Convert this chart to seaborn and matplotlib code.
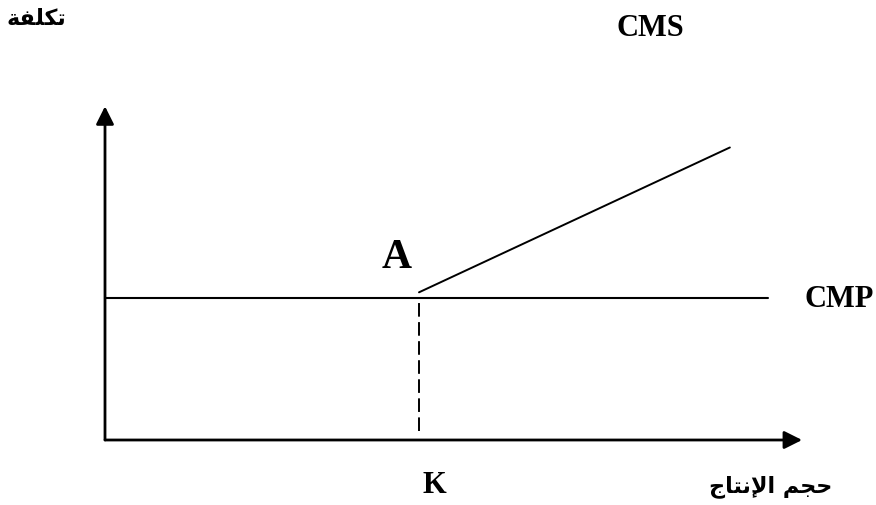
import pandas as pd
import seaborn as sns
import matplotlib.pyplot as plt

# conceptual values of the diagram (arbitrary units)
k_level = 10.0
cmp_level = 10.0
cmp_x = [0.0, 21.1]
cms_x = [10.0, 19.9]
cms_y = [10.4, 20.6]
x_axis_end = 22.2
y_axis_end = 23.5
dash_bottom = 0.6

labels = dict(
    cost='تكلفة',
    volume='حجم الإنتاج',
    cms='CMS',
    cmp='CMP',
    point='A',
    k='K',
)

FORMS = {
    'ا': ('\uFE8D', '\uFE8E', None, None),
    'إ': ('\uFE87', '\uFE88', None, None),
    'ت': ('\uFE95', '\uFE96', '\uFE97', '\uFE98'),
    'ة': ('\uFE93', '\uFE94', None, None),
    'ج': ('\uFE9D', '\uFE9E', '\uFE9F', '\uFEA0'),
    'ح': ('\uFEA1', '\uFEA2', '\uFEA3', '\uFEA4'),
    'ف': ('\uFED1', '\uFED2', '\uFED3', '\uFED4'),
    'ك': ('\uFED9', '\uFEDA', '\uFEDB', '\uFEDC'),
    'ل': ('\uFEDD', '\uFEDE', '\uFEDF', '\uFEE0'),
    'م': ('\uFEE1', '\uFEE2', '\uFEE3', '\uFEE4'),
    'ن': ('\uFEE5', '\uFEE6', '\uFEE7', '\uFEE8'),
}
LAM_ALEF = {'ا': ('\uFEFB', '\uFEFC'), 'إ': ('\uFEF9', '\uFEFA'), 'أ': ('\uFEF7', '\uFEF8')}


def joins_left(letter):
    return letter[0] != 'LA' and FORMS[letter[0]][2] is not None


def shape_arabic(text):
    # matplotlib has no arabic shaping: pick contextual forms, then reverse for display
    words = []
    for word in text.split(' '):
        letters = []
        i = 0
        while i < len(word):
            if word[i] == 'ل' and i + 1 < len(word) and word[i + 1] in LAM_ALEF:
                letters.append(('LA', word[i + 1]))
                i += 2
            else:
                letters.append((word[i], None))
                i += 1
        out = []
        for j, (ch, alef) in enumerate(letters):
            prev_joins = j > 0 and joins_left(letters[j - 1])
            if ch == 'LA':
                iso, fin = LAM_ALEF[alef]
                out.append(fin if prev_joins else iso)
                continue
            iso, fin, ini, med = FORMS[ch]
            can_left = ini is not None and j + 1 < len(letters)
            if prev_joins and can_left:
                out.append(med)
            elif prev_joins:
                out.append(fin)
            elif can_left:
                out.append(ini)
            else:
                out.append(iso)
        words.append(''.join(reversed(out)))
    return ' '.join(reversed(words))


sns.set_theme(style='white')

fig = plt.figure(figsize=(8.76, 5.06), dpi=100)
ax = fig.add_axes([0, 0, 1, 1])
ax.set_xlim(-105 / 31.4, 771 / 31.4)
ax.set_ylim(-65 / 14.2, 441 / 14.2)
ax.axis('off')

cmp_df = pd.DataFrame({'x': cmp_x, 'y': [cmp_level, cmp_level]})
cms_df = pd.DataFrame({'x': cms_x, 'y': cms_y})
k_df = pd.DataFrame({'x': [k_level, k_level], 'y': [dash_bottom, cmp_level]})

sns.lineplot(data=cmp_df, x='x', y='y', ax=ax, color='black', lw=1.5,
             estimator=None, sort=False)
sns.lineplot(data=cms_df, x='x', y='y', ax=ax, color='black', lw=1.4,
             estimator=None, sort=False)
sns.lineplot(data=k_df, x='x', y='y', ax=ax, color='black', lw=1.4,
             estimator=None, sort=False, dashes=False, linestyle=(0, (7, 2.8)))

arrow = dict(arrowstyle='-|>,head_length=0.6,head_width=0.3', mutation_scale=18,
             color='black', lw=2.0, shrinkA=0, shrinkB=0)
ax.annotate('', xy=(x_axis_end, 0), xytext=(0, 0), arrowprops=arrow)
ax.annotate('', xy=(0, y_axis_end), xytext=(0, 0), arrowprops=arrow)

latin = dict(family='Liberation Serif', weight='bold', color='black')
arabic = dict(family='DejaVu Sans', weight='bold', color='black')

fig.text(650 / 876, 1 - 36 / 506, labels['cms'], ha='center', va='baseline', fontsize=22, **latin)
fig.text(839 / 876, 1 - 307 / 506, labels['cmp'], ha='center', va='baseline', fontsize=22, **latin)
fig.text(397 / 876, 1 - 268 / 506, labels['point'], ha='center', va='baseline', fontsize=30, **latin)
fig.text(434 / 876, 1 - 493 / 506, labels['k'], ha='center', va='baseline', fontsize=22, **latin)
fig.text(36 / 876, 1 - 19 / 506, shape_arabic(labels['cost']), ha='center', va='center',
         fontsize=16, **arabic)
fig.text(771 / 876, 1 - 487 / 506, shape_arabic(labels['volume']), ha='center', va='center',
         fontsize=16, **arabic)

fig.savefig('out.png', dpi=100)
